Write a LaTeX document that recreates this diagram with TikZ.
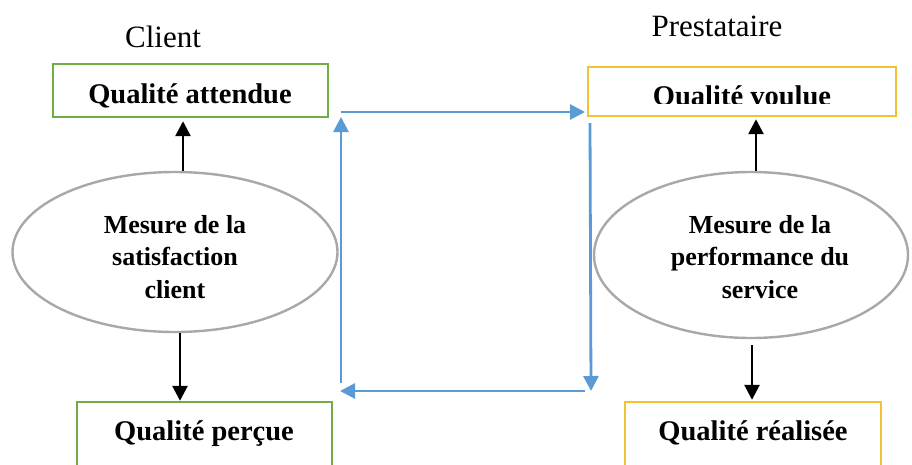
\documentclass[tikz,border=0pt]{standalone}
\usepackage{fontspec}
\setmainfont{Liberation Serif}
\usetikzlibrary{arrows.meta,shapes.geometric}

\definecolor{boxgreen}{HTML}{70AD47}
\definecolor{boxgold}{HTML}{F5C130}
\definecolor{flowblue}{HTML}{5B9BD5}
\definecolor{ovalgray}{HTML}{A8A8A8}

\tikzset{
  qbox/.style={draw, line width=2.4pt, rectangle, inner sep=0pt},
  clientbox/.style={qbox, draw=boxgreen},
  prestbox/.style={qbox, draw=boxgold},
  qtext/.style={font=\fontsize{28.5}{32}\selectfont\bfseries, anchor=base, inner sep=0pt},
  side/.style={font=\fontsize{31}{36}\selectfont, anchor=base, inner sep=0pt},
  oval/.style={draw=ovalgray, line width=2.4pt, fill=white, ellipse, inner sep=0pt},
  ovaltext/.style={font=\fontsize{26}{32.5}\selectfont\bfseries, align=center, inner sep=0pt},
  blackarrow/.style={line width=2.6pt, -{Triangle[length=15pt,width=15pt]}},
  bluearrow/.style={draw=flowblue, line width=2.8pt, -{Triangle[length=15pt,width=15pt]}, color=flowblue},
}

\begin{document}
\begin{tikzpicture}[x=1pt, y=-1pt]
  \useasboundingbox (0,0) rectangle (912,464);
  \clip (0,0) rectangle (912,464);

  % column headings
  \node[side] (client) at (163,47) {Client};
  \node[side] (prest) at (717,36) {Prestataire};

  % quality boxes
  \node[clientbox, minimum width=275pt, minimum height=53pt] (q1) at (190.5,90.5) {};
  \node[clientbox, minimum width=255pt, minimum height=78pt] (q2) at (204.5,441) {};
  \node[prestbox, minimum width=308pt, minimum height=49pt] (q3) at (742,91.5) {};
  \node[prestbox, minimum width=256pt, minimum height=78pt] (q4) at (753,441) {};

  \node[qtext] (t1) at (190,103) {Qualité attendue};
  \begin{scope}
    \clip (588,67) rectangle (896,103);
    \node[qtext] (t3) at (742,105) {Qualité voulue};
  \end{scope}
  \node[qtext] (t2) at (204,440) {Qualité perçue};
  \node[qtext] (t4) at (753,440) {Qualité réalisée};

  % measurement ovals
  \node[oval, minimum width=325pt, minimum height=160pt] (e1) at (175,252) {};
  \node[ovaltext] (m1) at (175,257) {Mesure de la\\satisfaction\\client};
  \node[oval, minimum width=314pt, minimum height=166pt] (e2) at (751,255) {};
  \node[ovaltext] (m2) at (760,257) {Mesure de la\\performance du\\service};

  % attachment points of the vertical arrows
  \coordinate (a1) at (183,0);
  \coordinate (a2) at (180,0);
  \coordinate (a3) at (756,0);
  \coordinate (a4) at (752,0);
  \coordinate (s4) at (752,345);

  \draw[blackarrow] (e1.north -| a1) -- ([yshift=-3pt]q1.south -| a1);
  \draw[blackarrow] (e1.south -| a2) -- (q2.north -| a2);
  \draw[blackarrow] (e2.north -| a3) -- ([yshift=-2pt]q3.south -| a3);
  \draw[blackarrow] (s4) -- ([yshift=1pt]q4.north -| a4);

  % exchange loop between client and provider
  \coordinate (b1) at (341,112);
  \coordinate (b2) at (585,112);
  \coordinate (b3) at (590,123);
  \coordinate (b4) at (591,391);
  \coordinate (b5) at (585,391);
  \coordinate (b6) at (340,391);
  \coordinate (b7) at (341,383);
  \coordinate (b8) at (341,117);

  \draw[bluearrow] (b1) -- (b2);
  \draw[bluearrow] (b3) -- (b4);
  \draw[bluearrow] (b5) -- (b6);
  \draw[bluearrow] (b7) -- (b8);
\end{tikzpicture}
\end{document}
